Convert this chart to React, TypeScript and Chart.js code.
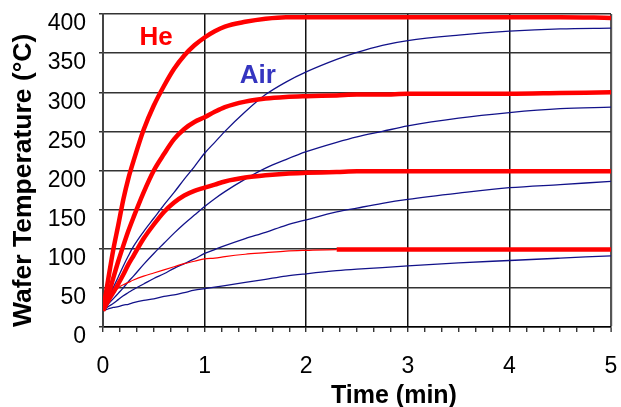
import React, { useEffect, useRef } from 'react';
import { Chart, registerables } from 'chart.js';

Chart.register(...registerables);

const FONT = "'Liberation Sans', Arial, Helvetica, sans-serif";

// time in minutes
const times = [0, 0.05, 0.1, 0.15, 0.2, 0.25, 0.3, 0.4, 0.5, 0.6, 0.7, 0.8, 0.9, 1.0, 1.1, 1.2, 1.4, 1.6, 1.8, 2.0, 2.3, 2.5, 2.75, 3.0, 3.5, 4.0, 4.5, 5.0];

// Helium (red) curves
const he400 = [21, 60, 98, 130, 163, 190, 212, 252, 283, 308, 330, 347, 360, 370, 378, 384, 390, 394, 396, 396, 396, 396, 396, 396, 396, 396, 396, 395];
const he300 = [21, 40, 62, 84, 104, 123, 140, 172, 200, 221, 240, 253, 262, 268, 275, 281, 288, 292, 294, 295, 296, 297, 297, 298, 298, 298, 299, 300];
const he200 = [21, 33, 44, 55, 67, 80, 91, 113, 131, 147, 159, 168, 174, 178, 182, 186, 191, 194, 196, 197, 198, 199, 199, 199, 199, 199, 199, 199];
const he100 = [21, 32, 42, 50, 54, 57, 60, 65, 69, 73, 77, 81, 84, 87, 88, 90, 93, 95, 97, 98, 99, 99, 99, 99, 99, 99, 99, 99];

// Air (blue) curves
const air400 = [21, 36, 50, 64, 78, 91, 103, 122, 139, 156, 172, 189, 205, 222, 236, 250, 275, 297, 313, 326, 342, 351, 360, 366, 373, 378, 381, 382];
const air300 = [21, 29, 36, 43, 50, 58, 65, 80, 94, 107, 120, 132, 143, 154, 164, 173, 189, 203, 214, 224, 236, 243, 250, 257, 267, 274, 279, 281];
const air200 = [21, 26, 30, 35, 40, 44, 48, 55, 62, 68, 75, 81, 87, 94, 99, 104, 113, 121, 130, 137, 147, 152, 158, 163, 171, 178, 182, 186];
const air100 = [21, 23, 25, 26, 28, 29, 31, 34, 36, 39, 41, 44, 47, 49, 51, 53, 57, 61, 65, 68, 72, 74, 76, 78, 82, 85, 88, 91];

const xMin = 0;
const xMax = 5;
const xMinorPerMajor = 6;
const yMin = 0;
const yMax = 400;
const yStep = 50;

const HE_THICK_FROM = 2.3;

const RED = '#ff0000';
const NAVY = '#12128a';

const textPlugin = {
  id: 'textLabels',
  afterDraw(chart: any) {
    const { ctx } = chart;
    const xs = chart.scales.x;
    const ys = chart.scales.y;
    ctx.save();
    ctx.textBaseline = 'alphabetic';
    ctx.textAlign = 'left';
    ctx.font = `bold 26px ${FONT}`;
    ctx.fillStyle = RED;
    ctx.fillText('He', xs.getPixelForValue(0.36), ys.getPixelForValue(360));
    ctx.fillStyle = '#3535c0';
    ctx.fillText('Air', xs.getPixelForValue(1.345), ys.getPixelForValue(312));
    ctx.fillStyle = '#000';
    ctx.font = `bold 25px ${FONT}`;
    ctx.fillText('Time (min)', 331, 403);
    ctx.restore();
  },
};

function mk(label: string, values: number[], color: string, width: number, extra: any = {}) {
  return {
    label,
    data: times.map((t, i) => ({ x: t, y: values[i] })),
    borderColor: color,
    backgroundColor: color,
    borderWidth: width,
    pointRadius: 0,
    cubicInterpolationMode: 'monotone',
    fill: false,
    ...extra,
  };
}

const isMajor = (v: number) => Math.abs(v - Math.round(v)) < 1e-6;

const clearPadding = (s: any) => {
  s.paddingLeft = 0;
  s.paddingRight = 0;
  s.paddingTop = 0;
  s.paddingBottom = 0;
};

export default function App() {
  const ref = useRef<HTMLCanvasElement | null>(null);

  useEffect(() => {
    if (!ref.current) return;
    const chart = new Chart(ref.current, {
      type: 'line',
      data: {
        datasets: [
          mk('He 400', he400, RED, 4.5),
          mk('He 300', he300, RED, 4.5),
          mk('He 200', he200, RED, 4.5),
          mk('He 100', he100, RED, 1.2, {
            segment: {
              borderWidth: (c: any) => (c.p0.parsed.x >= HE_THICK_FROM - 1e-9 ? 4.5 : 1.2),
            },
          }),
          mk('Air 400', air400, NAVY, 1.3),
          mk('Air 300', air300, NAVY, 1.3),
          mk('Air 200', air200, NAVY, 1.3),
          mk('Air 100', air100, NAVY, 1.3),
        ] as any,
      },
      options: {
        responsive: false,
        animation: false,
        devicePixelRatio: 1,
        layout: { padding: { left: 0, top: 14, right: 10, bottom: 0 } },
        plugins: {
          legend: { display: false },
          tooltip: { enabled: false },
          title: { display: false },
        },
        scales: {
          x: {
            type: 'linear',
            min: xMin,
            max: xMax,
            afterFit: (s: any) => {
              s.height = 80;
              clearPadding(s);
            },
            afterBuildTicks: (s: any) => {
              const t = [];
              for (let i = 0; i <= (xMax - xMin) * xMinorPerMajor; i++) {
                t.push({ value: xMin + i / xMinorPerMajor });
              }
              s.ticks = t;
            },
            ticks: {
              autoSkip: false,
              maxRotation: 0,
              padding: 21,
              color: '#000',
              font: { family: FONT, size: 23 },
              callback: (v: any) => (isMajor(v) ? String(Math.round(v)) : ''),
            },
            grid: {
              color: (c: any) => (c.tick && isMajor(c.tick.value) ? (Math.round(c.tick.value) === xMax ? '#555' : '#111') : 'rgba(0,0,0,0)'),
              lineWidth: (c: any) => (c.tick && Math.round(c.tick.value) === xMax && isMajor(c.tick.value) ? 2.2 : 1.5),
              tickColor: '#111',
              tickLength: 5,
              tickWidth: 1.2,
            },
            border: { display: true, color: '#000', width: 1.5 },
            title: { display: false },
          },
          y: {
            type: 'linear',
            min: yMin,
            max: yMax,
            afterFit: (s: any) => {
              s.width = 103;
              clearPadding(s);
            },
            ticks: {
              stepSize: yStep,
              padding: 13,
              labelOffset: 10,
              color: '#000',
              font: { family: FONT, size: 23 },
            },
            grid: {
              color: '#333',
              lineWidth: 1.5,
              tickColor: '#333',
              tickLength: 4,
            },
            border: { display: true, color: '#444', width: 2 },
            title: {
              display: true,
              text: 'Wafer Temperature (°C)',
              align: 'start',
              color: '#000',
              font: { family: FONT, size: 26.5, weight: 'bold' },
              padding: { top: 8, bottom: 0 },
            },
          },
        },
      },
      plugins: [textPlugin],
    } as any);
    return () => chart.destroy();
  }, []);

  return (
    <div style={{ position: 'absolute', left: 0, top: 0, width: 621, height: 407, background: '#fff' }}>
      <canvas ref={ref} width={621} height={407} style={{ display: 'block' }} />
    </div>
  );
}
